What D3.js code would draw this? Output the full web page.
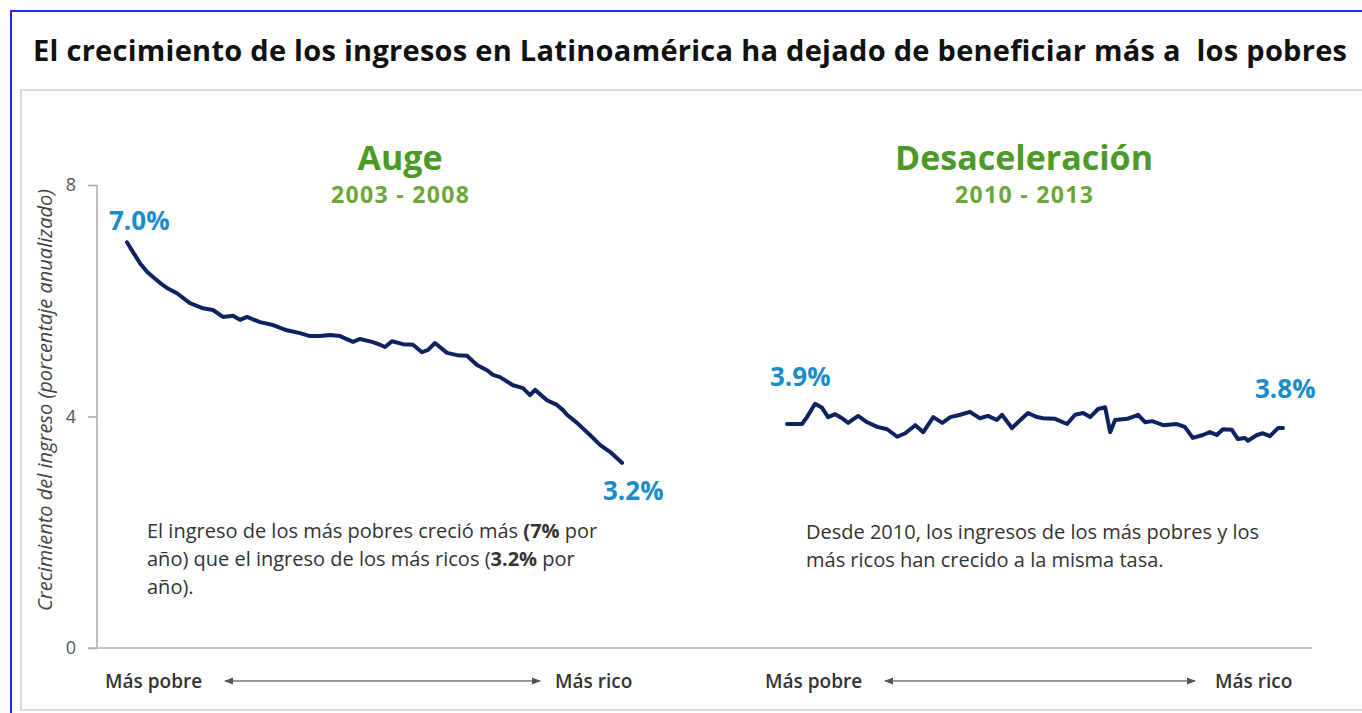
<!DOCTYPE html>
<html>
<head>
<meta charset="utf-8">
<script src="https://cdn.jsdelivr.net/npm/d3@7"></script>
<style>
body { margin: 0; background: #fff; }
svg { display: block; font-family: "Open Sans", sans-serif; }
</style>
</head>
<body>
<div id="chart"></div>
<script>
// Data (percentil de ingreso vs crecimiento anualizado %)
const boomPct = [1, 2.2, 3.6, 5, 6.2, 7.6, 9, 11, 13.6, 16.2, 18.2, 20.2, 22.2, 23.6, 25, 27.6, 30.2, 33, 35.6, 37.6, 39.6, 41.6, 43.6, 46.2, 47.6, 50, 51.6, 52.6, 54, 56.2, 58.2, 60, 61.2, 62.6, 65, 67, 69, 71, 73, 74.2, 75.6, 78.2, 80.2, 81.6, 82.6, 85, 87, 88.2, 89, 91, 93.6, 95.6, 97.6, 100];
const boomGrowth = [7.01, 6.84, 6.65, 6.50, 6.41, 6.31, 6.22, 6.13, 5.96, 5.87, 5.84, 5.72, 5.74, 5.67, 5.72, 5.63, 5.58, 5.49, 5.44, 5.39, 5.39, 5.41, 5.39, 5.29, 5.34, 5.29, 5.24, 5.20, 5.30, 5.25, 5.24, 5.11, 5.15, 5.27, 5.10, 5.06, 5.05, 4.89, 4.80, 4.72, 4.68, 4.54, 4.49, 4.37, 4.46, 4.28, 4.20, 4.11, 4.03, 3.89, 3.68, 3.51, 3.39, 3.20];

const slowPct = [1, 4, 5, 6.6, 8, 9.2, 10.6, 12, 13.2, 15.2, 17, 19, 21, 23, 24.6, 26.6, 28.2, 30.2, 32, 33.6, 35.6, 37.5, 39.5, 41.1, 42.9, 43.9, 45.9, 47.1, 49.1, 50.9, 52.1, 54.5, 56.9, 58.5, 60.1, 61.5, 63.1, 64.5, 65.5, 66.5, 68.9, 71.1, 72.5, 73.9, 76.1, 78.8, 80.4, 82, 84, 85.4, 86.8, 88, 89.8, 91, 92.4, 93, 94.8, 96, 97.4, 99, 100];
const slowGrowth = [3.87, 3.87, 3.99, 4.22, 4.15, 3.99, 4.04, 3.97, 3.89, 4.01, 3.90, 3.82, 3.78, 3.65, 3.71, 3.85, 3.73, 3.99, 3.89, 3.99, 4.03, 4.08, 3.97, 4.01, 3.94, 4.03, 3.80, 3.90, 4.06, 3.99, 3.97, 3.96, 3.87, 4.03, 4.06, 3.99, 4.13, 4.16, 3.73, 3.94, 3.96, 4.03, 3.90, 3.92, 3.85, 3.87, 3.82, 3.63, 3.68, 3.73, 3.68, 3.78, 3.77, 3.61, 3.63, 3.58, 3.68, 3.71, 3.66, 3.80, 3.80];

const yTicks = [0, 4, 8];
const panelTitles = ["Auge", "Desaceleración"];
const panelYears = ["2003 - 2008", "2010 - 2013"];
const startLabels = ["7.0%", "3.9%"];
const endLabels = ["3.2%", "3.8%"];

const w = 1362, h = 713;
const navy = "#0d2360", blue = "#1b8bc9", green = "#4b9a26", green2 = "#6aa63a";

const svg = d3.select("#chart").append("svg")
  .attr("width", w).attr("height", h);

// Frames
svg.append("rect").attr("x", 11).attr("y", 11).attr("width", w).attr("height", h)
  .attr("fill", "none").attr("stroke", "#2a2af0").attr("stroke-width", 2);
svg.append("rect").attr("x", 21).attr("y", 90).attr("width", w).attr("height", 620)
  .attr("fill", "none").attr("stroke", "#cfcfcf").attr("stroke-width", 1.5);

// Title
svg.append("text")
  .attr("x", 33).attr("y", 61)
  .attr("textLength", 1314).attr("lengthAdjust", "spacing")
  .style("font-size", "29px").style("font-weight", 700).style("fill", "#111")
  .style("white-space", "pre")
  .text("El crecimiento de los ingresos en Latinoamérica ha dejado de beneficiar más a  los pobres");

// Scales
const y = d3.scaleLinear().domain([0, 8]).range([648, 185]);
const xLeft = d3.scaleLinear().domain([1, 100]).range([127, 622]);
const xRight = d3.scaleLinear().domain([1, 100]).range([787, 1283]);

// Y axis
const yAxis = d3.axisLeft(y).tickValues(yTicks).tickSize(9).tickPadding(12).tickFormat(d3.format("d"));
const gy = svg.append("g").attr("transform", "translate(97,0)").call(yAxis);
gy.select(".domain").attr("stroke", "#a8a8a8").attr("stroke-width", 1.5).attr("d", `M0,${y(8)}V${y(0)}`);
gy.selectAll(".tick line").attr("stroke", "#a8a8a8").attr("stroke-width", 1.5);
gy.selectAll(".tick text").style("font-size", "18px").style("fill", "#555")
  .style("font-family", "Open Sans, sans-serif");

// baseline
svg.append("line")
  .attr("x1", 88).attr("x2", 1312).attr("y1", y(0)).attr("y2", y(0))
  .attr("stroke", "#b5b5b5").attr("stroke-width", 1.5);

svg.append("text")
  .attr("transform", `translate(52,400) rotate(-90)`)
  .attr("text-anchor", "middle")
  .style("font-size", "20px").style("font-style", "italic").style("fill", "#444")
  .text("Crecimiento del ingreso (porcentaje anualizado)");

// Lines
const panels = [
  { x: xLeft, pct: boomPct, val: boomGrowth, cx: 400 },
  { x: xRight, pct: slowPct, val: slowGrowth, cx: 1024 }
];

panels.forEach((p, i) => {
  const pts = p.pct.map((d, j) => [d, p.val[j]]);
  const line = d3.line().x(d => p.x(d[0])).y(d => y(d[1])).curve(d3.curveLinear);
  svg.append("path").datum(pts)
    .attr("d", line)
    .attr("fill", "none").attr("stroke", navy).attr("stroke-width", 4)
    .attr("stroke-linejoin", "round").attr("stroke-linecap", "round");

  svg.append("text").attr("x", p.cx).attr("y", 170).attr("text-anchor", "middle")
    .style("font-size", "34px").style("font-weight", 700).style("fill", green)
    .text(panelTitles[i]);
  svg.append("text").attr("x", p.cx - 69).attr("y", 203)
    .attr("textLength", 138).attr("lengthAdjust", "spacing")
    .style("font-size", "23px").style("font-weight", 700).style("fill", green2)
    .text(panelYears[i]);
});

// value labels
const lab = (x, yy, t) => svg.append("text").attr("x", x).attr("y", yy)
  .style("font-size", "26px").style("font-weight", 700).style("fill", blue).text(t);
lab(xLeft(1) - 18, y(boomGrowth[0]) - 12, startLabels[0]);
lab(xLeft(100) - 19, y(boomGrowth[boomGrowth.length - 1]) + 37, endLabels[0]);
lab(xRight(1) - 17, 386, startLabels[1]);
lab(xRight(100) - 28, 398, endLabels[1]);

// annotations
function para(x, y0, size, lines) {
  const t = svg.append("text").attr("x", x).attr("y", y0)
    .style("font-size", size + "px").style("fill", "#333");
  lines.forEach((ln, i) => {
    ln.forEach((seg, j) => {
      const ts = t.append("tspan").text(seg[0]).style("font-weight", seg[1] ? 700 : 400);
      if (j === 0) ts.attr("x", x).attr("dy", i === 0 ? 0 : 28);
    });
  });
}
para(147, 538, 20, [
  [["El ingreso de los más pobres creció más ", 0], ["(7%", 1], [" por", 0]],
  [["año) que el ingreso de los más ricos (", 0], ["3.2%", 1], [" por", 0]],
  [["año).", 0]]
]);
para(806, 539, 20, [
  [["Desde 2010, los ingresos de los más pobres y los", 0]],
  [["más ricos han crecido a la misma tasa.", 0]]
]);

// bottom direction labels with arrows
const defs = svg.append("defs");
defs.append("marker").attr("id", "ah").attr("viewBox", "0 0 10 10")
  .attr("refX", 9).attr("refY", 5).attr("markerWidth", 7).attr("markerHeight", 7)
  .attr("orient", "auto-start-reverse")
  .append("path").attr("d", "M0,1L10,5L0,9z").attr("fill", "#555");

[[105, 225, 540, 555], [765, 885, 1195, 1215]].forEach(d => {
  svg.append("text").attr("x", d[0]).attr("y", 688)
    .style("font-size", "19px").style("font-weight", 600).style("fill", "#333").text("Más pobre");
  svg.append("line").attr("x1", d[1]).attr("x2", d[2]).attr("y1", 681).attr("y2", 681)
    .attr("stroke", "#777").attr("stroke-width", 1.3)
    .attr("marker-start", "url(#ah)").attr("marker-end", "url(#ah)");
  svg.append("text").attr("x", d[3]).attr("y", 688)
    .style("font-size", "19px").style("font-weight", 600).style("fill", "#333").text("Más rico");
});
</script>
</body>
</html>
